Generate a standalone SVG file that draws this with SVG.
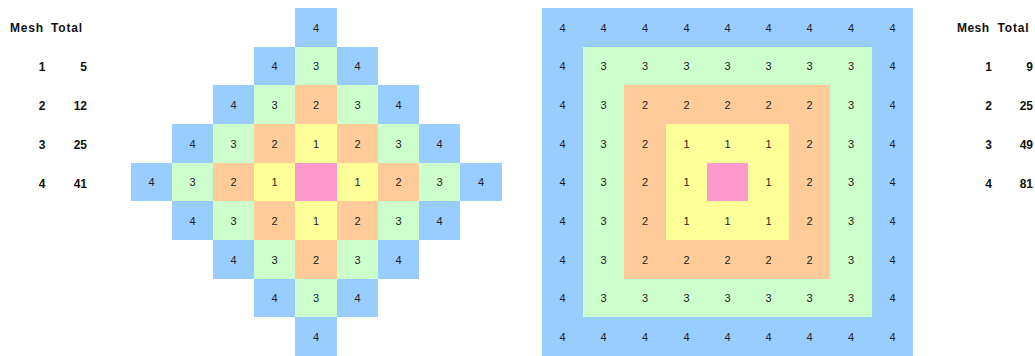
<svg xmlns="http://www.w3.org/2000/svg" width="1035" height="356" viewBox="0 0 1035 356">
<style>
.b{fill:#99ccff}.g{fill:#ccffcc}.o{fill:#ffcc99}.y{fill:#ffff99}.p{fill:#ff99cc}
.t{font-family:"Liberation Sans",Arial,sans-serif;font-size:11px;fill:#222;text-anchor:middle}
.h{font-family:"Liberation Sans",Arial,sans-serif;font-size:12px;font-weight:bold;fill:#111}
.m{text-anchor:middle}.e{text-anchor:end}
</style>
<rect width="1035" height="356" fill="#fff"/>
<g id="table-left">
<text class="h" x="10" y="32" textLength="33">Mesh</text><text class="h" x="51" y="32" textLength="31">Total</text>
<text class="h m" x="42" y="71">1</text><text class="h e" x="87" y="71">5</text>
<text class="h m" x="42" y="110">2</text><text class="h e" x="87" y="110">12</text>
<text class="h m" x="42" y="149">3</text><text class="h e" x="87" y="149">25</text>
<text class="h m" x="42" y="188">4</text><text class="h e" x="87" y="188">41</text>
</g>
<g id="table-right">
<text class="h" x="957" y="32" textLength="32">Mesh</text><text class="h" x="997.5" y="32" textLength="31">Total</text>
<text class="h m" x="988.5" y="71">1</text><text class="h e" x="1033" y="71">9</text>
<text class="h m" x="988.5" y="110">2</text><text class="h e" x="1033" y="110">25</text>
<text class="h m" x="988.5" y="149">3</text><text class="h e" x="1033" y="149">49</text>
<text class="h m" x="988.5" y="188">4</text><text class="h e" x="1033" y="188">81</text>
</g>
<g id="diamond">
<g id="d-row0">
<rect class="b" x="295" y="8" width="42" height="39"/><text class="t" x="316" y="31.5">4</text>
</g>
<g id="d-row1">
<rect class="b" x="254" y="47" width="41" height="38"/><text class="t" x="274.5" y="70">4</text>
<rect class="g" x="295" y="47" width="42" height="38"/><text class="t" x="316" y="70">3</text>
<rect class="b" x="337" y="47" width="41" height="38"/><text class="t" x="357.5" y="70">4</text>
</g>
<g id="d-row2">
<rect class="b" x="213" y="85" width="41" height="39"/><text class="t" x="233.5" y="109">4</text>
<rect class="g" x="254" y="85" width="41" height="39"/><text class="t" x="274.5" y="109">3</text>
<rect class="o" x="295" y="85" width="42" height="39"/><text class="t" x="316" y="109">2</text>
<rect class="g" x="337" y="85" width="41" height="39"/><text class="t" x="357.5" y="109">3</text>
<rect class="b" x="378" y="85" width="41" height="39"/><text class="t" x="398.5" y="109">4</text>
</g>
<g id="d-row3">
<rect class="b" x="172" y="124" width="41" height="39"/><text class="t" x="192.5" y="147.5">4</text>
<rect class="g" x="213" y="124" width="41" height="39"/><text class="t" x="233.5" y="147.5">3</text>
<rect class="o" x="254" y="124" width="41" height="39"/><text class="t" x="274.5" y="147.5">2</text>
<rect class="y" x="295" y="124" width="42" height="39"/><text class="t" x="316" y="147.5">1</text>
<rect class="o" x="337" y="124" width="41" height="39"/><text class="t" x="357.5" y="147.5">2</text>
<rect class="g" x="378" y="124" width="41" height="39"/><text class="t" x="398.5" y="147.5">3</text>
<rect class="b" x="419" y="124" width="41" height="39"/><text class="t" x="439.5" y="147.5">4</text>
</g>
<g id="d-row4">
<rect class="b" x="131" y="163" width="41" height="38"/><text class="t" x="151.5" y="186">4</text>
<rect class="g" x="172" y="163" width="41" height="38"/><text class="t" x="192.5" y="186">3</text>
<rect class="o" x="213" y="163" width="41" height="38"/><text class="t" x="233.5" y="186">2</text>
<rect class="y" x="254" y="163" width="41" height="38"/><text class="t" x="274.5" y="186">1</text>
<rect class="p" x="295" y="163" width="42" height="38"/>
<rect class="y" x="337" y="163" width="41" height="38"/><text class="t" x="357.5" y="186">1</text>
<rect class="o" x="378" y="163" width="41" height="38"/><text class="t" x="398.5" y="186">2</text>
<rect class="g" x="419" y="163" width="41" height="38"/><text class="t" x="439.5" y="186">3</text>
<rect class="b" x="460" y="163" width="42" height="38"/><text class="t" x="481" y="186">4</text>
</g>
<g id="d-row5">
<rect class="b" x="172" y="201" width="41" height="39"/><text class="t" x="192.5" y="225">4</text>
<rect class="g" x="213" y="201" width="41" height="39"/><text class="t" x="233.5" y="225">3</text>
<rect class="o" x="254" y="201" width="41" height="39"/><text class="t" x="274.5" y="225">2</text>
<rect class="y" x="295" y="201" width="42" height="39"/><text class="t" x="316" y="225">1</text>
<rect class="o" x="337" y="201" width="41" height="39"/><text class="t" x="357.5" y="225">2</text>
<rect class="g" x="378" y="201" width="41" height="39"/><text class="t" x="398.5" y="225">3</text>
<rect class="b" x="419" y="201" width="41" height="39"/><text class="t" x="439.5" y="225">4</text>
</g>
<g id="d-row6">
<rect class="b" x="213" y="240" width="41" height="39"/><text class="t" x="233.5" y="263.5">4</text>
<rect class="g" x="254" y="240" width="41" height="39"/><text class="t" x="274.5" y="263.5">3</text>
<rect class="o" x="295" y="240" width="42" height="39"/><text class="t" x="316" y="263.5">2</text>
<rect class="g" x="337" y="240" width="41" height="39"/><text class="t" x="357.5" y="263.5">3</text>
<rect class="b" x="378" y="240" width="41" height="39"/><text class="t" x="398.5" y="263.5">4</text>
</g>
<g id="d-row7">
<rect class="b" x="254" y="279" width="41" height="38"/><text class="t" x="274.5" y="302">4</text>
<rect class="g" x="295" y="279" width="42" height="38"/><text class="t" x="316" y="302">3</text>
<rect class="b" x="337" y="279" width="41" height="38"/><text class="t" x="357.5" y="302">4</text>
</g>
<g id="d-row8">
<rect class="b" x="295" y="317" width="42" height="39"/><text class="t" x="316" y="341">4</text>
</g>
</g>
<g id="square">
<g id="s-rings">
<rect class="b" x="542" y="8" width="371" height="348"/>
<rect class="g" x="583" y="47" width="289" height="270"/>
<rect class="o" x="624" y="85" width="206" height="194"/>
<rect class="y" x="666" y="124" width="123" height="116"/>
<rect class="p" x="707" y="163" width="41" height="38"/>
</g>
<g id="s-row0">
<text class="t" x="562.5" y="31.5">4</text><text class="t" x="603.5" y="31.5">4</text><text class="t" x="645" y="31.5">4</text><text class="t" x="686.5" y="31.5">4</text><text class="t" x="727.5" y="31.5">4</text><text class="t" x="768.5" y="31.5">4</text><text class="t" x="809.5" y="31.5">4</text><text class="t" x="851" y="31.5">4</text><text class="t" x="892.5" y="31.5">4</text>
</g>
<g id="s-row1">
<text class="t" x="562.5" y="70">4</text><text class="t" x="603.5" y="70">3</text><text class="t" x="645" y="70">3</text><text class="t" x="686.5" y="70">3</text><text class="t" x="727.5" y="70">3</text><text class="t" x="768.5" y="70">3</text><text class="t" x="809.5" y="70">3</text><text class="t" x="851" y="70">3</text><text class="t" x="892.5" y="70">4</text>
</g>
<g id="s-row2">
<text class="t" x="562.5" y="109">4</text><text class="t" x="603.5" y="109">3</text><text class="t" x="645" y="109">2</text><text class="t" x="686.5" y="109">2</text><text class="t" x="727.5" y="109">2</text><text class="t" x="768.5" y="109">2</text><text class="t" x="809.5" y="109">2</text><text class="t" x="851" y="109">3</text><text class="t" x="892.5" y="109">4</text>
</g>
<g id="s-row3">
<text class="t" x="562.5" y="147.5">4</text><text class="t" x="603.5" y="147.5">3</text><text class="t" x="645" y="147.5">2</text><text class="t" x="686.5" y="147.5">1</text><text class="t" x="727.5" y="147.5">1</text><text class="t" x="768.5" y="147.5">1</text><text class="t" x="809.5" y="147.5">2</text><text class="t" x="851" y="147.5">3</text><text class="t" x="892.5" y="147.5">4</text>
</g>
<g id="s-row4">
<text class="t" x="562.5" y="186">4</text><text class="t" x="603.5" y="186">3</text><text class="t" x="645" y="186">2</text><text class="t" x="686.5" y="186">1</text><text class="t" x="768.5" y="186">1</text><text class="t" x="809.5" y="186">2</text><text class="t" x="851" y="186">3</text><text class="t" x="892.5" y="186">4</text>
</g>
<g id="s-row5">
<text class="t" x="562.5" y="225">4</text><text class="t" x="603.5" y="225">3</text><text class="t" x="645" y="225">2</text><text class="t" x="686.5" y="225">1</text><text class="t" x="727.5" y="225">1</text><text class="t" x="768.5" y="225">1</text><text class="t" x="809.5" y="225">2</text><text class="t" x="851" y="225">3</text><text class="t" x="892.5" y="225">4</text>
</g>
<g id="s-row6">
<text class="t" x="562.5" y="263.5">4</text><text class="t" x="603.5" y="263.5">3</text><text class="t" x="645" y="263.5">2</text><text class="t" x="686.5" y="263.5">2</text><text class="t" x="727.5" y="263.5">2</text><text class="t" x="768.5" y="263.5">2</text><text class="t" x="809.5" y="263.5">2</text><text class="t" x="851" y="263.5">3</text><text class="t" x="892.5" y="263.5">4</text>
</g>
<g id="s-row7">
<text class="t" x="562.5" y="302">4</text><text class="t" x="603.5" y="302">3</text><text class="t" x="645" y="302">3</text><text class="t" x="686.5" y="302">3</text><text class="t" x="727.5" y="302">3</text><text class="t" x="768.5" y="302">3</text><text class="t" x="809.5" y="302">3</text><text class="t" x="851" y="302">3</text><text class="t" x="892.5" y="302">4</text>
</g>
<g id="s-row8">
<text class="t" x="562.5" y="341">4</text><text class="t" x="603.5" y="341">4</text><text class="t" x="645" y="341">4</text><text class="t" x="686.5" y="341">4</text><text class="t" x="727.5" y="341">4</text><text class="t" x="768.5" y="341">4</text><text class="t" x="809.5" y="341">4</text><text class="t" x="851" y="341">4</text><text class="t" x="892.5" y="341">4</text>
</g>
</g>
</svg>
